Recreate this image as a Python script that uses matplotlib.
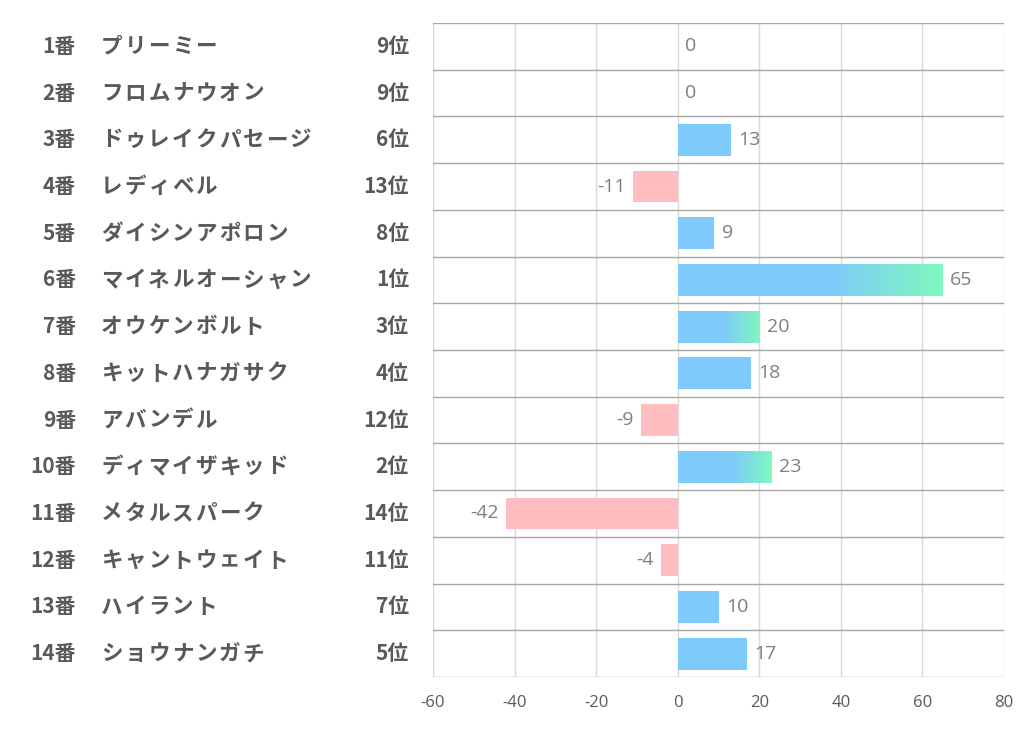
import matplotlib.pyplot as plt
import numpy as np
from matplotlib.colors import LinearSegmentedColormap
from matplotlib.transforms import blended_transform_factory

plt.rcParams['font.family'] = ['Noto Sans CJK JP', 'DejaVu Sans']
plt.rcParams['axes.unicode_minus'] = False

nums = ['1番', '2番', '3番', '4番', '5番', '6番', '7番', '8番', '9番', '10番',
        '11番', '12番', '13番', '14番']
names = ['プリーミー', 'フロムナウオン', 'ドゥレイクパセージ', 'レディベル', 'ダイシンアポロン',
         'マイネルオーシャン', 'オウケンボルト', 'キットハナガサク', 'アバンデル', 'ディマイザキッド',
         'メタルスパーク', 'キャントウェイト', 'ハイラント', 'ショウナンガチ']
ranks = [9, 9, 6, 13, 8, 1, 3, 4, 12, 2, 14, 11, 7, 5]
values = [0, 0, 13, -11, 9, 65, 20, 18, -9, 23, -42, -4, 10, 17]

blue = '#7ECBFB'
green = '#7FF8BE'
pink = '#FFBDC0'
cmap = LinearSegmentedColormap.from_list('bg', [blue, green])

fig = plt.figure(figsize=(10.22, 7.30), dpi=100)
ax = fig.add_axes([433/1022, 53/730, 571/1022, 654/730])

h = 0.68
for i, v in enumerate(values):
    if v == 0:
        continue
    c = blue if v > 0 else pink
    ax.barh(i, v, height=h, color=c, zorder=2, linewidth=0)
    if ranks[i] <= 3:
        # gradient on the end part of the top 3
        start = v * 0.58
        grad = np.linspace(0, 1, 256).reshape(1, -1)
        ax.imshow(grad, cmap=cmap, extent=[start, v, i + h/2, i - h/2],
                  aspect='auto', zorder=3)

lab_font = ['Open Sans', 'DejaVu Sans']
for i, v in enumerate(values):
    if v >= 0:
        ax.text(v + 1.8, i, str(v), ha='left', va='center', fontsize=14,
                color='#7F7F7F', family=lab_font)
    else:
        ax.text(v - 1.8, i, str(v), ha='right', va='center', fontsize=14,
                color='#7F7F7F', family=lab_font)

ax.set_xlim(-60, 80)
ax.set_ylim(len(values) - 0.5, -0.5)
ax.set_xticks(range(-60, 81, 20))
ax.set_yticks([])
for xv in range(-60, 81, 20):
    ax.axvline(xv, color='#D9D9D9', linewidth=1, zorder=1)
for yb in np.arange(-0.5, len(values), 1):
    ax.axhline(yb, color='#A6A6A6', linewidth=1, zorder=1)
for s in ax.spines.values():
    s.set_visible(False)
ax.tick_params(axis='x', length=0, labelsize=12, labelcolor='#595959', pad=13)
for t in ax.get_xticklabels():
    t.set_family(lab_font)

tr = blended_transform_factory(fig.transFigure, ax.transData)
pitch = 23.6
for i in range(len(values)):
    ax.text(76/1022, i, nums[i], transform=tr, ha='right', va='center',
            fontsize=15, fontweight='bold', color='#595959', clip_on=False)
    # names are spaced wide, one character at a time
    for k, ch in enumerate(names[i]):
        ax.text((100 + pitch*(k + 0.5))/1022, i, ch, transform=tr, ha='center',
                va='center', fontsize=15.5, fontweight='bold', color='#595959',
                clip_on=False)
    ax.text(409/1022, i, str(ranks[i]) + '位', transform=tr, ha='right', va='center',
            fontsize=15, fontweight='bold', color='#595959', clip_on=False)

fig.savefig('out.png', dpi=100)
